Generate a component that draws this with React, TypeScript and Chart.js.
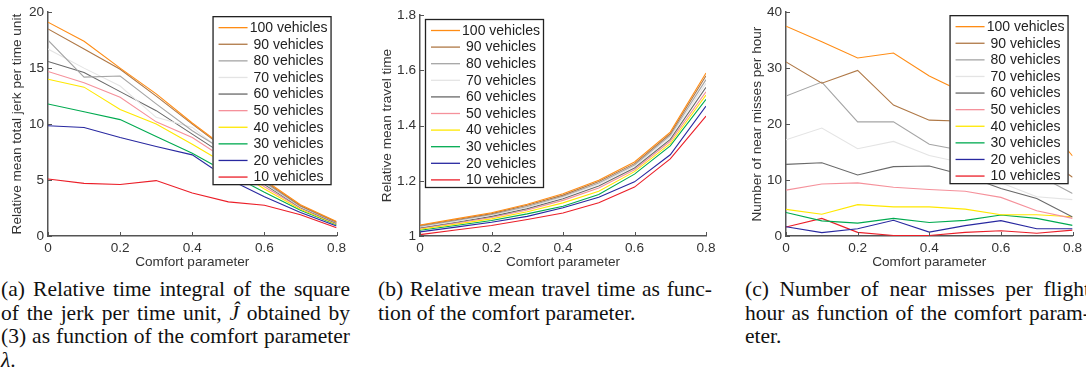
import React, { useEffect, useRef } from "react";
import { Chart, registerables } from "chart.js";
Chart.register(...registerables);

// ---------- data ----------
const comfort = [0, 0.1, 0.2, 0.3, 0.4, 0.5, 0.6, 0.7, 0.8];
const fleetLabels = [
  "100 vehicles", "90 vehicles", "80 vehicles", "70 vehicles", "60 vehicles",
  "50 vehicles", "40 vehicles", "30 vehicles", "20 vehicles", "10 vehicles",
];
const fleetColors = [
  "rgb(255,140,20)", "rgb(175,120,70)", "rgb(165,165,165)", "rgb(228,228,228)", "rgb(105,105,105)",
  "rgb(245,145,155)", "rgb(255,232,0)", "rgb(0,170,80)", "rgb(40,40,160)", "rgb(235,30,40)",
];

// (a) relative mean total jerk per time unit
const jerkSeries: number[][] = [
  [19.1, 17.4, 15.0, 12.7, 10.1, 7.7, 5.0, 2.8, 1.3],
  [18.5, 16.7, 14.9, 12.5, 10.0, 7.6, 4.9, 2.7, 1.25],
  [17.5, 14.2, 14.3, 11.8, 9.4, 7.4, 4.8, 2.65, 1.2],
  [16.7, 15.0, 13.4, 10.6, 9.7, 7.2, 4.7, 2.6, 1.2],
  [15.6, 14.6, 12.9, 11.2, 9.1, 7.0, 4.6, 2.55, 1.15],
  [14.7, 13.7, 12.4, 10.2, 8.8, 6.7, 4.4, 2.5, 1.1],
  [14.0, 13.3, 11.3, 10.0, 8.2, 6.3, 4.2, 2.4, 1.05],
  [11.8, 11.1, 10.4, 8.9, 7.4, 5.6, 3.9, 2.3, 1.0],
  [9.85, 9.7, 8.8, 8.0, 7.25, 5.1, 3.5, 2.1, 0.9],
  [5.1, 4.7, 4.6, 4.95, 3.85, 3.05, 2.75, 1.9, 0.74],
];

// (b) relative mean travel time
const travelSeries: number[][] = [
  [1.040, 1.062, 1.084, 1.115, 1.153, 1.202, 1.268, 1.376, 1.590],
  [1.038, 1.059, 1.081, 1.111, 1.148, 1.197, 1.262, 1.370, 1.580],
  [1.035, 1.056, 1.078, 1.107, 1.144, 1.192, 1.257, 1.364, 1.566],
  [1.033, 1.053, 1.075, 1.103, 1.140, 1.187, 1.252, 1.358, 1.553],
  [1.030, 1.050, 1.071, 1.099, 1.135, 1.181, 1.246, 1.350, 1.538],
  [1.028, 1.047, 1.067, 1.094, 1.129, 1.174, 1.240, 1.343, 1.522],
  [1.025, 1.043, 1.062, 1.088, 1.120, 1.162, 1.233, 1.334, 1.510],
  [1.021, 1.038, 1.056, 1.080, 1.108, 1.150, 1.224, 1.326, 1.495],
  [1.015, 1.032, 1.050, 1.071, 1.102, 1.140, 1.196, 1.294, 1.470],
  [1.005, 1.022, 1.038, 1.060, 1.083, 1.120, 1.177, 1.279, 1.434],
];

// (c) near misses per flight hour
const nearMissSeries: number[][] = [
  [37.5, 34.7, 31.8, 32.7, 28.6, 25.5, 23.5, 22.0, 14.3],
  [31.1, 27.3, 29.6, 23.4, 20.7, 20.5, 18.0, 15.0, 10.5],
  [25.0, 27.5, 20.4, 20.4, 16.4, 15.2, 14.0, 11.0, 7.6],
  [17.2, 19.3, 15.6, 16.9, 14.4, 13.0, 9.5, 7.0, 6.5],
  [12.8, 13.1, 10.9, 12.4, 12.5, 10.8, 8.5, 6.7, 3.4],
  [8.2, 9.3, 9.5, 8.7, 8.3, 8.0, 6.9, 4.5, 3.15],
  [4.75, 3.9, 5.6, 5.2, 5.2, 4.8, 3.8, 3.8, 3.45],
  [4.2, 2.7, 2.3, 3.15, 2.4, 2.8, 3.75, 3.15, 1.9],
  [1.65, 0.6, 1.3, 2.8, 0.7, 1.85, 2.75, 1.3, 1.3],
  [1.6, 3.15, 0.65, 0.1, 0.1, 0.65, 0.95, 0.5, 1.05],
];

const xTicks = [0, 0.2, 0.4, 0.6, 0.8];

// ---------- styling ----------
const FONT_FAMILY = "'Liberation Sans', Arial, Helvetica, sans-serif";
const TEXT = "#333";
const AXIS = "#555";
const FONT = { family: FONT_FAMILY, size: 13.6, lineHeight: 1.2 };

const fmt = (v: number | string) => String(Math.round(Number(v) * 100) / 100);

const inwardTicks = {
  id: "inwardTicks",
  afterDraw(chart: any) {
    const { ctx, chartArea, scales } = chart;
    ctx.save();
    ctx.strokeStyle = AXIS;
    ctx.lineWidth = 1;
    ctx.beginPath();
    scales.x.ticks.forEach((t: any) => {
      const px = Math.round(scales.x.getPixelForValue(t.value)) + 0.5;
      ctx.moveTo(px, chartArea.bottom);
      ctx.lineTo(px, chartArea.bottom - 4);
    });
    scales.y.ticks.forEach((t: any) => {
      const py = Math.round(scales.y.getPixelForValue(t.value)) + 0.5;
      ctx.moveTo(chartArea.left, py);
      ctx.lineTo(chartArea.left + 4, py);
    });
    ctx.stroke();
    ctx.restore();
  },
};

const boxLegend = {
  id: "boxLegend",
  afterDraw(chart: any, _args: any, opts: any) {
    const { ctx, chartArea } = chart;
    const w = 119;
    const h = 169;
    const left = opts.anchor === "left" ? chartArea.left + opts.dx : chartArea.right - opts.dx - w;
    const top = chartArea.top + opts.dy;
    ctx.save();
    ctx.fillStyle = "#fff";
    ctx.fillRect(left, top, w, h);
    ctx.strokeStyle = "#222";
    ctx.lineWidth = 1.3;
    ctx.strokeRect(left + 0.5, top + 0.5, w - 1, h - 1);
    ctx.font = `14px ${FONT_FAMILY}`;
    ctx.textAlign = "center";
    ctx.textBaseline = "middle";
    chart.data.datasets.forEach((ds: any, i: number) => {
      const y = top + 11.5 + i * 16.6;
      ctx.strokeStyle = ds.borderColor;
      ctx.lineWidth = 1.3;
      ctx.beginPath();
      ctx.moveTo(left + 6, y);
      ctx.lineTo(left + 35, y);
      ctx.stroke();
      ctx.fillStyle = "#222";
      ctx.fillText(ds.label, left + 76, y + 0.5);
    });
    ctx.restore();
  },
};

type PanelProps = {
  series: number[][];
  yMin: number;
  yMax: number;
  yStep: number;
  yTitle: string;
  left: number;
  width: number;
  padLeft: number;
  padRight: number;
  padTop: number;
  yAxisWidth: number;
  legend: { anchor: "left" | "right"; dx: number; dy: number };
};

const HEIGHT = 270;

function Panel(p: PanelProps) {
  const ref = useRef<HTMLCanvasElement | null>(null);
  useEffect(() => {
    if (!ref.current) return;
    const chart = new Chart(ref.current, {
      type: "line",
      data: {
        datasets: p.series.map((vals, i) => ({
          label: fleetLabels[i],
          data: vals.map((v, j) => ({ x: comfort[j], y: v })),
          borderColor: fleetColors[i],
          backgroundColor: fleetColors[i],
          borderWidth: 1.1,
          pointRadius: 0,
          tension: 0,
          fill: false,
        })),
      },
      options: {
        animation: false,
        responsive: false,
        devicePixelRatio: 1,
        events: [],
        layout: { padding: { left: p.padLeft, right: p.padRight, top: p.padTop, bottom: 0 } },
        plugins: {
          legend: { display: false },
          tooltip: { enabled: false },
          boxLegend: p.legend,
        } as any,
        scales: {
          x: {
            type: "linear",
            min: 0,
            max: 0.8,
            afterBuildTicks: (s: any) => {
              s.ticks = xTicks.map((v) => ({ value: v }));
            },
            ticks: { callback: fmt, padding: 4, font: FONT, color: TEXT, maxRotation: 0, autoSkip: false },
            grid: { display: false, drawTicks: false },
            border: { display: true, color: AXIS, width: 1.5 },
            title: { display: true, text: "Comfort parameter", font: FONT, color: TEXT, padding: 0 },
            afterFit: (s: any) => {
              s.height = 34;
            },
          },
          y: {
            type: "linear",
            min: p.yMin,
            max: p.yMax,
            ticks: { stepSize: p.yStep, callback: fmt, padding: 4, font: FONT, color: TEXT },
            grid: { display: false, drawTicks: false },
            border: { display: true, color: AXIS, width: 1.5 },
            title: { display: true, text: p.yTitle, font: FONT, color: TEXT, padding: 0 },
            afterFit: (s: any) => {
              s.width = p.yAxisWidth;
            },
          },
        },
      } as any,
      plugins: [inwardTicks, boxLegend],
    });
    return () => chart.destroy();
  }, []);
  return (
    <canvas
      ref={ref}
      width={p.width}
      height={HEIGHT}
      style={{ position: "absolute", left: p.left, top: 0, width: p.width, height: HEIGHT }}
    />
  );
}

const captionStyle: React.CSSProperties = {
  position: "absolute",
  fontFamily: "'Liberation Serif', 'Times New Roman', serif",
  fontSize: 21.5,
  lineHeight: "23.5px",
  color: "#111",
  whiteSpace: "nowrap",
};

function Line(props: { left: number; top: number; width: number; justify?: boolean; children: React.ReactNode }) {
  return (
    <div
      style={{
        ...captionStyle,
        left: props.left,
        top: props.top,
        width: props.width,
        whiteSpace: props.justify ? "normal" : "nowrap",
        textAlign: props.justify ? "justify" : "left",
        textAlignLast: props.justify ? "justify" : "left",
      }}
    >
      {props.children}
    </div>
  );
}

export default function App() {
  const t0 = 278;
  const lh = 23.5;
  return (
    <div style={{ position: "absolute", left: 0, top: 0, width: 1086, height: 374, overflow: "hidden", background: "#fff" }}>
      <Panel
        series={jerkSeries}
        yMin={0}
        yMax={20}
        yStep={5}
        yTitle="Relative mean total jerk per time unit"
        left={0}
        width={350}
        padLeft={9}
        padRight={13}
        padTop={11}
        yAxisWidth={39}
        legend={{ anchor: "right", dx: 5, dy: 4 }}
      />
      <Panel
        series={travelSeries}
        yMin={1}
        yMax={1.8}
        yStep={0.2}
        yTitle="Relative mean travel time"
        left={370}
        width={350}
        padLeft={9}
        padRight={14}
        padTop={15}
        yAxisWidth={41}
        legend={{ anchor: "left", dx: 5, dy: 4 }}
      />
      <Panel
        series={nearMissSeries}
        yMin={0}
        yMax={40}
        yStep={10}
        yTitle="Number of near misses per hour"
        left={740}
        width={346}
        padLeft={9}
        padRight={11}
        padTop={12}
        yAxisWidth={37}
        legend={{ anchor: "right", dx: 4, dy: 3 }}
      />

      <Line left={1} top={t0} width={349} justify>(a) Relative time integral of the square</Line>
      <Line left={1} top={t0 + lh} width={349} justify>
        of the jerk per time unit, <i>Ĵ</i> obtained by
      </Line>
      <Line left={1} top={t0 + 2 * lh} width={349} justify>(3) as function of the comfort parameter</Line>
      <Line left={1} top={t0 + 3 * lh} width={349}>
        <i>λ</i>.
      </Line>

      <Line left={378} top={t0} width={334} justify>(b) Relative mean travel time as func-</Line>
      <Line left={378} top={t0 + lh} width={334}>tion of the comfort parameter.</Line>

      <Line left={745} top={t0} width={345} justify>(c) Number of near misses per flight</Line>
      <Line left={745} top={t0 + lh} width={345} justify>hour as function of the comfort param-</Line>
      <Line left={745} top={t0 + 2 * lh} width={345}>eter.</Line>
    </div>
  );
}
